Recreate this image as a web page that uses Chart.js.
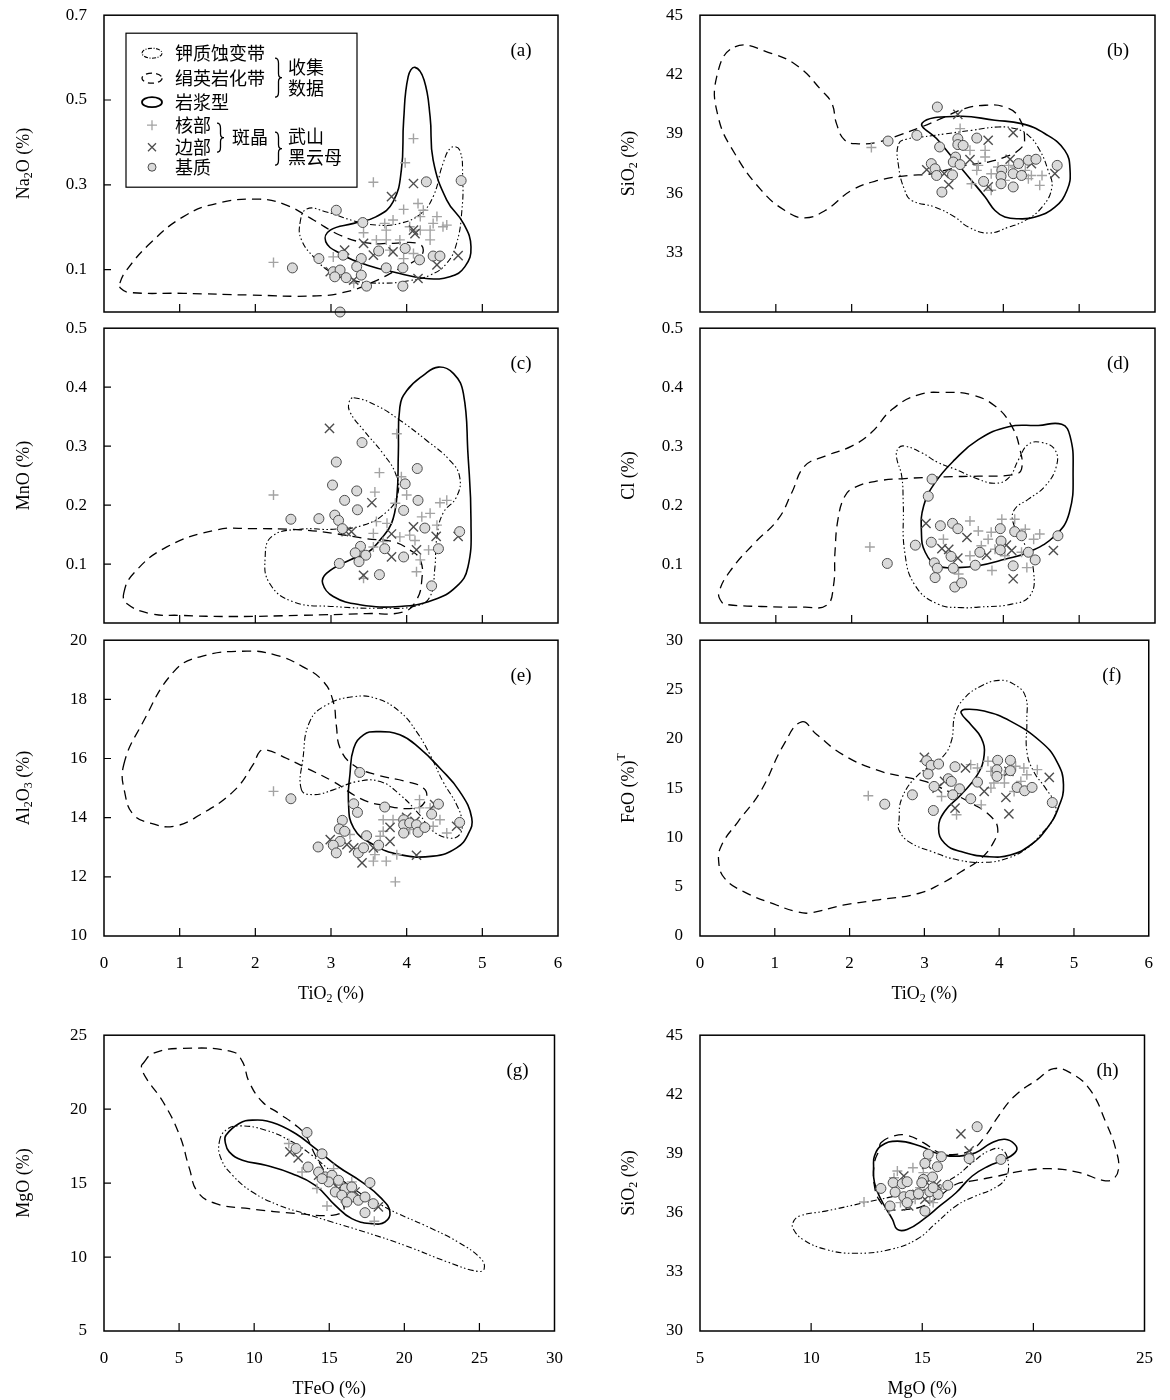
<!DOCTYPE html>
<html>
<head>
<meta charset="utf-8">
<script src="https://cdn.jsdelivr.net/npm/chart.js@4.4.0/dist/chart.umd.min.js"></script>
<style>
html, body { margin: 0; padding: 0; background: #fff; }
#wrap { position: relative; width: 1170px; height: 1400px; overflow: hidden; }
#wrap canvas { position: absolute; }
</style>
</head>
<body>
<div id="wrap"></div>
<script>
// ---- tick values ----
const tiTicks = [0, 1, 2, 3, 4, 5, 6];
const tiMarks = [1, 2, 3, 4, 5];
const naTicks = [0.1, 0.3, 0.5, 0.7];
const naMarks = [0.1, 0.3, 0.5];
const siTicksTop = [33, 36, 39, 42, 45];
const siTicks = [30, 33, 36, 39, 42, 45];
const tenthTicks = [0.1, 0.2, 0.3, 0.4, 0.5];
const tenthMarks = [0.1, 0.2, 0.3, 0.4];
const alTicks = [10, 12, 14, 16, 18, 20];
const alMarks = [12, 14, 16, 18];
const feTicks = [0, 5, 10, 15, 20, 25, 30];
const mgTicks = [5, 10, 15, 20, 25];
const mgMarks = [10, 15, 20];
const tfeTicks = [0, 5, 10, 15, 20, 25, 30];
const tfeMarks = [5, 10, 15, 20, 25];

// ---- (a) TiO2 - Na2O ----
const aCore = [[2.24,0.117],[3.56,0.306],[4.09,0.409],[3.98,0.352],[3.43,0.187],[3.71,0.209],[3.82,0.217],[3.96,0.242],[4.15,0.256],[4.22,0.240],[4.18,0.225],[4.35,0.209],[4.40,0.225],[4.48,0.201],[4.53,0.205],[4.31,0.170],[4.18,0.193],[3.73,0.170],[3.60,0.170],[3.91,0.170],[3.96,0.126],[4.09,0.138],[3.03,0.130],[3.30,0.068],[3.73,0.193],[3.78,0.146],[4.31,0.193],[4.04,0.201]];
const aRim = [[3.80,0.272],[4.09,0.303],[4.11,0.185],[4.09,0.193],[3.43,0.162],[3.18,0.146],[3.56,0.134],[3.82,0.142],[2.99,0.095],[3.30,0.075],[4.15,0.079],[4.40,0.111],[4.68,0.133]];
const aMatrix = [[3.07,0.240],[3.42,0.211],[4.26,0.307],[4.72,0.310],[2.49,0.104],[2.84,0.126],[3.16,0.134],[3.63,0.144],[3.98,0.150],[4.17,0.123],[4.35,0.132],[4.44,0.132],[3.40,0.126],[3.73,0.104],[3.95,0.104],[3.03,0.095],[3.12,0.099],[3.34,0.107],[3.40,0.087],[3.20,0.081],[3.05,0.083],[3.47,0.061],[3.95,0.061],[3.12,0.0]];
const aPotassic = [[2.59,0.209],[2.68,0.243],[2.94,0.236],[3.30,0.215],[3.60,0.205],[3.91,0.209],[4.18,0.231],[4.35,0.272],[4.48,0.350],[4.59,0.388],[4.70,0.382],[4.74,0.319],[4.73,0.240],[4.66,0.162],[4.53,0.115],[4.31,0.087],[4.04,0.074],[3.69,0.068],[3.30,0.074],[2.99,0.095],[2.77,0.130],[2.61,0.170]];
const aPhyllic = [[0.21,0.068],[0.30,0.099],[0.61,0.162],[1.05,0.225],[1.49,0.256],[2.06,0.266],[2.41,0.252],[2.77,0.217],[3.12,0.181],[3.47,0.163],[3.82,0.162],[4.15,0.162],[4.22,0.146],[4.15,0.126],[3.91,0.103],[3.56,0.071],[3.21,0.048],[2.81,0.038],[1.93,0.040],[1.05,0.044],[0.34,0.046],[0.22,0.056]];
const aMagmatic = [[4.11,0.577],[4.23,0.547],[4.31,0.460],[4.35,0.358],[4.53,0.264],[4.75,0.209],[4.85,0.154],[4.77,0.107],[4.57,0.083],[4.26,0.079],[3.91,0.091],[3.47,0.111],[3.12,0.138],[2.93,0.166],[2.99,0.193],[3.30,0.209],[3.60,0.225],[3.82,0.260],[3.93,0.335],[3.96,0.452],[4.02,0.555]];

// ---- (b) TiO2 - SiO2 ----
const bCore = [[2.26,38.31],[3.43,39.27],[3.56,38.17],[3.76,38.17],[3.76,37.83],[3.67,37.41],[3.65,37.16],[3.58,36.48],[3.84,36.15],[3.84,36.99],[3.93,37.33],[4.07,37.41],[4.15,37.33],[4.29,37.16],[4.37,36.90],[4.51,36.90],[4.48,36.40],[4.33,36.74],[4.02,36.65],[4.24,37.50]];
const bRim = [[3.40,39.99],[4.13,39.06],[3.80,38.68],[3.56,37.70],[2.99,37.19],[3.22,36.99],[3.28,36.43],[3.80,36.32],[4.09,37.72],[4.37,37.50],[4.68,36.99]];
const bMatrix = [[3.13,40.36],[2.48,38.64],[2.86,38.93],[3.16,38.34],[3.40,38.76],[3.40,38.46],[3.47,38.42],[3.65,38.79],[3.37,37.83],[3.34,37.58],[3.43,37.45],[3.05,37.50],[3.10,37.24],[3.12,36.90],[3.33,36.93],[3.19,36.06],[3.74,36.60],[3.98,37.16],[3.97,36.86],[3.97,36.48],[4.13,36.99],[4.13,36.32],[4.24,36.90],[4.33,37.67],[4.43,37.72],[4.71,37.41],[4.20,37.50]];
const bPotassic = [[2.62,38.50],[2.75,38.76],[2.92,38.84],[3.23,39.00],[3.58,39.18],[3.93,39.35],[4.15,39.27],[4.33,38.93],[4.48,38.17],[4.59,37.16],[4.64,36.30],[4.51,35.30],[4.29,34.63],[4.07,34.29],[3.80,33.99],[3.54,34.29],[3.36,34.80],[3.10,35.30],[2.79,35.64],[2.70,36.15],[2.62,37.33]];
const bPhyllic = [[0.46,43.40],[0.95,43.06],[1.30,42.39],[1.60,41.21],[1.74,40.53],[1.80,39.52],[1.91,38.68],[2.09,38.50],[2.35,38.59],[2.62,38.93],[2.92,39.35],[3.23,39.86],[3.49,40.28],[3.76,40.45],[4.02,40.36],[4.20,39.86],[4.28,38.68],[4.20,38.17],[4.02,37.83],[3.80,37.58],[3.49,37.41],[3.23,37.16],[3.01,36.96],[2.75,36.90],[2.35,36.65],[2.00,36.15],[1.65,35.13],[1.38,34.76],[1.12,35.13],[0.81,36.15],[0.46,38.00],[0.24,39.86],[0.22,41.88]];
const bMagmatic = [[2.93,39.55],[3.41,39.89],[3.89,39.69],[4.24,39.52],[4.55,39.01],[4.81,38.17],[4.88,37.16],[4.84,36.15],[4.68,35.30],[4.42,34.80],[4.20,34.71],[4.02,34.80],[3.89,35.13],[3.76,35.81],[3.58,36.65],[3.36,37.66],[3.14,38.68]];

// ---- (c) TiO2 - MnO ----
const cCore = [[2.24,0.217],[3.87,0.321],[3.64,0.255],[3.93,0.248],[3.58,0.222],[3.85,0.203],[4.00,0.217],[4.20,0.180],[4.31,0.186],[4.44,0.204],[4.53,0.208],[3.60,0.172],[3.74,0.169],[3.56,0.152],[3.91,0.146],[4.04,0.149],[4.11,0.140],[4.29,0.124],[4.40,0.166],[3.56,0.129],[3.69,0.138],[4.13,0.087],[3.43,0.076],[4.18,0.107]];
const cRim = [[2.98,0.330],[3.54,0.204],[3.20,0.155],[3.27,0.155],[3.80,0.151],[4.09,0.163],[4.39,0.147],[4.68,0.147],[4.13,0.124],[3.80,0.112],[3.43,0.081]];
const cMatrix = [[3.41,0.306],[3.07,0.273],[3.02,0.234],[3.34,0.224],[3.18,0.208],[3.35,0.192],[2.47,0.176],[2.84,0.177],[3.05,0.183],[3.10,0.174],[3.15,0.160],[3.98,0.236],[4.14,0.262],[4.15,0.208],[3.96,0.191],[4.24,0.161],[4.70,0.155],[4.42,0.126],[3.39,0.130],[3.32,0.119],[3.46,0.115],[3.37,0.104],[3.71,0.126],[3.96,0.112],[3.11,0.101],[3.64,0.082],[4.33,0.063]];
const cPotassic = [[3.30,0.382],[3.60,0.369],[3.91,0.344],[4.26,0.310],[4.57,0.276],[4.70,0.248],[4.66,0.214],[4.48,0.186],[4.40,0.146],[4.37,0.090],[4.31,0.045],[4.13,0.029],[3.69,0.025],[3.03,0.028],[2.50,0.036],[2.19,0.067],[2.13,0.112],[2.22,0.147],[2.59,0.159],[3.03,0.159],[3.43,0.166],[3.74,0.189],[3.88,0.217],[3.86,0.251],[3.69,0.287],[3.43,0.327],[3.25,0.358],[3.24,0.375]];
const cPhyllic = [[0.26,0.050],[0.39,0.084],[0.83,0.129],[1.49,0.158],[1.93,0.160],[2.59,0.158],[3.03,0.152],[3.47,0.143],[3.82,0.138],[4.04,0.124],[4.18,0.107],[4.20,0.073],[4.13,0.039],[3.96,0.019],[3.47,0.016],[2.59,0.013],[1.71,0.011],[1.00,0.013],[0.61,0.016],[0.30,0.033]];
const cMagmatic = [[4.42,0.434],[4.62,0.423],[4.75,0.389],[4.81,0.287],[4.85,0.174],[4.81,0.095],[4.66,0.062],[4.35,0.039],[3.91,0.028],[3.38,0.031],[3.03,0.045],[2.89,0.067],[2.94,0.084],[3.25,0.107],[3.47,0.118],[3.65,0.141],[3.80,0.169],[3.87,0.214],[3.89,0.287],[3.91,0.366],[4.00,0.394],[4.22,0.420]];

// ---- (d) TiO2 - Cl ----
const dCore = [[2.24,0.129],[3.21,0.142],[3.56,0.173],[3.67,0.156],[3.80,0.142],[3.85,0.089],[3.98,0.176],[4.15,0.176],[4.29,0.159],[4.40,0.142],[4.48,0.151],[3.56,0.114],[3.71,0.131],[3.89,0.125],[4.02,0.114],[4.31,0.094],[3.41,0.083],[3.84,0.154],[4.24,0.120]];
const dRim = [[2.98,0.169],[3.19,0.126],[3.28,0.125],[3.40,0.110],[3.52,0.145],[3.78,0.115],[4.04,0.132],[4.11,0.123],[4.13,0.075],[4.66,0.123]];
const dMatrix = [[3.06,0.244],[3.01,0.215],[2.84,0.132],[2.47,0.101],[3.05,0.137],[3.17,0.165],[3.33,0.169],[3.40,0.160],[3.09,0.102],[3.13,0.093],[3.10,0.077],[3.31,0.113],[3.34,0.093],[3.36,0.061],[3.45,0.068],[3.69,0.120],[3.63,0.098],[3.96,0.160],[3.97,0.139],[3.96,0.124],[4.15,0.155],[4.24,0.148],[4.13,0.097],[4.33,0.120],[4.42,0.107],[4.72,0.148]];
const dPotassic = [[2.62,0.297],[2.70,0.300],[2.92,0.289],[3.14,0.272],[3.36,0.261],[3.67,0.244],[3.89,0.237],[4.07,0.246],[4.20,0.277],[4.33,0.303],[4.51,0.306],[4.68,0.294],[4.70,0.266],[4.55,0.232],[4.33,0.210],[4.15,0.193],[4.13,0.170],[4.29,0.131],[4.40,0.086],[4.35,0.046],[4.11,0.032],[3.67,0.027],[3.45,0.026],[3.14,0.032],[2.84,0.063],[2.70,0.120],[2.68,0.204],[2.66,0.249],[2.59,0.283]];
const dPhyllic = [[0.29,0.035],[0.25,0.052],[0.42,0.092],[0.73,0.137],[1.03,0.176],[1.21,0.221],[1.38,0.266],[1.65,0.283],[2.00,0.300],[2.26,0.323],[2.53,0.362],[2.88,0.387],[3.23,0.391],[3.58,0.387],[3.89,0.368],[4.11,0.334],[4.22,0.294],[4.24,0.261],[4.15,0.252],[3.67,0.249],[3.23,0.248],[2.70,0.245],[2.35,0.241],[2.04,0.230],[1.91,0.215],[1.82,0.176],[1.78,0.120],[1.76,0.063],[1.67,0.030],[1.38,0.027],[0.81,0.028],[0.37,0.031]];
const dMagmatic = [[2.92,0.154],[2.95,0.199],[3.10,0.238],[3.36,0.277],[3.67,0.311],[4.07,0.333],[4.46,0.335],[4.77,0.337],[4.88,0.317],[4.92,0.261],[4.87,0.187],[4.68,0.148],[4.33,0.120],[4.02,0.108],[3.67,0.097],[3.41,0.094],[3.14,0.097],[2.97,0.120]];

// ---- (e) TiO2 - Al2O3 ----
const eCore = [[2.24,14.89],[3.85,11.83],[3.69,13.93],[3.82,13.93],[3.69,13.54],[3.58,12.75],[3.73,12.53],[3.87,12.75],[3.56,12.53],[4.17,14.61],[4.17,14.33],[4.31,14.33],[4.44,13.93],[4.35,13.71],[4.53,13.48],[3.25,13.43],[3.65,13.37],[4.04,13.60]];
const eRim = [[2.99,13.26],[3.21,13.09],[3.30,12.98],[3.41,12.47],[3.56,12.98],[3.78,13.67],[3.78,13.20],[4.00,14.01],[4.11,13.88],[4.13,12.73],[4.37,14.44],[4.66,13.71]];
const eMatrix = [[3.38,15.53],[2.47,14.64],[3.30,14.47],[3.35,14.18],[3.71,14.36],[3.15,13.91],[3.11,13.62],[3.18,13.54],[3.12,13.20],[3.03,13.07],[3.07,12.81],[2.83,13.01],[3.36,12.81],[3.47,13.39],[3.63,13.07],[3.96,13.93],[3.96,13.76],[3.96,13.48],[4.04,13.82],[4.13,13.76],[4.15,13.51],[4.24,13.67],[4.33,14.12],[4.42,14.46],[4.70,13.84],[3.43,12.98]];
const ePotassic = [[2.61,14.94],[2.63,16.01],[2.72,17.25],[2.94,17.81],[3.30,18.09],[3.60,18.03],[3.91,17.58],[4.13,16.91],[4.31,16.12],[4.48,15.22],[4.66,14.44],[4.73,13.88],[4.70,13.43],[4.57,13.31],[4.35,13.54],[4.17,14.10],[3.91,14.78],[3.65,15.22],[3.34,15.22],[3.03,14.94],[2.77,14.78]];
const ePhyllic = [[0.26,15.78],[0.52,17.25],[0.92,18.93],[1.27,19.44],[1.89,19.63],[2.28,19.49],[2.63,19.10],[2.90,18.60],[3.03,17.92],[3.07,17.13],[3.12,16.35],[3.29,15.79],[3.60,15.45],[4.00,15.22],[4.22,15.00],[4.26,14.66],[4.13,14.33],[3.65,14.44],[3.38,14.66],[3.03,15.22],[2.68,15.67],[2.41,16.01],[2.15,16.29],[2.06,16.24],[1.97,15.79],[1.71,14.89],[1.27,14.10],[0.92,13.71],[0.61,13.82],[0.39,14.10],[0.28,14.78]];
const eMagmatic = [[3.43,16.80],[3.60,16.91],[3.91,16.80],[4.17,16.35],[4.44,15.67],[4.70,14.89],[4.86,13.99],[4.81,13.43],[4.66,12.98],[4.35,12.70],[3.91,12.75],[3.56,13.09],[3.30,13.65],[3.23,14.55],[3.25,15.45],[3.30,16.35]];

// ---- (f) TiO2 - FeO ----
const fCore = [[2.25,14.22],[3.23,14.15],[3.43,12.29],[3.76,13.30],[3.62,17.38],[3.71,17.04],[3.85,17.72],[3.89,16.70],[3.93,15.51],[4.07,15.51],[4.07,16.36],[4.22,17.21],[4.33,17.04],[4.37,16.36],[4.51,16.87],[4.29,15.68],[4.20,14.66],[3.89,15.00]];
const fRim = [[3.00,18.12],[3.17,15.00],[3.27,15.68],[3.41,12.97],[3.55,17.04],[3.80,14.66],[4.09,14.05],[4.13,12.39],[4.13,16.70],[4.67,16.09]];
const fMatrix = [[2.47,13.37],[2.84,14.32],[3.03,17.78],[3.09,17.31],[3.19,17.44],[3.05,16.43],[3.13,15.17],[3.12,12.73],[3.32,15.95],[3.36,15.68],[3.41,17.17],[3.47,14.93],[3.38,14.32],[3.62,13.92],[3.71,15.61],[3.98,17.82],[3.97,16.87],[3.97,16.19],[4.15,17.82],[4.15,16.77],[4.24,15.07],[4.34,14.73],[4.44,15.07],[4.71,13.54]];
const fPotassic = [[2.66,11.61],[2.70,13.98],[2.92,16.36],[3.23,18.06],[3.36,19.75],[3.41,22.47],[3.54,24.16],[3.76,25.35],[4.00,25.93],[4.20,25.52],[4.35,24.33],[4.37,21.79],[4.37,18.73],[4.46,16.70],[4.62,15.00],[4.75,13.30],[4.73,11.95],[4.55,10.25],[4.37,8.89],[4.11,7.88],[3.80,7.47],[3.45,7.71],[3.10,8.56],[2.79,9.57],[2.66,10.76]];
const fPhyllic = [[1.36,21.72],[1.56,20.43],[1.91,18.39],[2.35,16.87],[2.70,16.19],[3.01,15.68],[3.32,14.66],[3.67,13.30],[3.89,12.12],[3.98,10.93],[3.93,9.57],[3.76,7.88],[3.49,6.52],[3.23,5.33],[2.92,4.31],[2.35,3.63],[1.91,3.12],[1.47,2.34],[1.30,2.45],[1.03,3.12],[0.59,4.48],[0.33,5.84],[0.25,7.54],[0.29,9.23],[0.51,11.61],[0.81,14.66],[1.12,19.41]];
const fMagmatic = [[3.49,22.64],[3.54,22.98],[3.80,22.81],[4.15,21.79],[4.55,19.75],[4.77,17.72],[4.86,15.34],[4.79,12.97],[4.64,10.93],[4.42,9.23],[4.15,8.21],[3.85,8.05],[3.49,8.56],[3.27,9.40],[3.19,10.93],[3.27,12.63],[3.49,14.32],[3.71,16.36],[3.80,18.39],[3.76,20.09],[3.62,21.45]];

// ---- (g) TFeO - MgO ----
const gCore = [[12.31,17.68],[13.19,15.75],[14.85,13.45],[18.00,12.42],[14.18,14.63],[15.29,15.98],[16.06,13.72],[16.50,15.08]];
const gRim = [[12.38,17.11],[12.93,16.70],[14.29,15.53],[15.18,15.08],[16.72,14.40],[18.27,13.39],[15.62,14.63]];
const gMatrix = [[13.52,18.42],[12.79,17.34],[14.52,16.98],[13.59,16.09],[14.29,15.75],[14.74,15.42],[15.18,15.53],[14.96,15.08],[15.62,15.19],[15.40,14.40],[16.06,14.63],[16.50,14.74],[16.50,14.06],[16.94,13.84],[17.38,14.06],[17.71,15.03],[17.93,13.61],[17.38,13.00],[15.84,14.18],[14.52,15.30],[16.17,13.72]];
const gPotassic = [[7.68,17.79],[8.12,18.58],[9.00,18.87],[10.77,18.58],[12.53,17.79],[13.85,16.88],[15.18,15.75],[16.94,14.40],[18.49,13.50],[19.59,12.93],[21.36,12.14],[23.56,11.02],[25.10,9.89],[25.32,9.21],[24.88,9.03],[22.90,9.66],[20.03,10.79],[17.38,11.69],[15.18,12.37],[13.41,12.93],[11.65,13.50],[9.88,14.40],[8.56,15.53],[7.79,16.66]];
const gPhyllic = [[2.60,23.09],[3.27,23.77],[5.25,24.11],[8.56,23.88],[9.22,23.21],[9.66,21.85],[10.54,20.50],[11.65,19.71],[12.75,18.92],[13.41,18.24],[14.07,16.88],[14.96,15.30],[15.84,13.72],[15.95,13.16],[15.18,12.82],[12.97,12.93],[9.66,13.27],[7.46,13.61],[6.24,14.40],[5.69,15.98],[5.03,18.24],[3.93,20.50],[2.82,22.08],[2.49,22.87]];
const gMagmatic = [[8.12,18.24],[9.00,19.03],[9.88,19.26],[11.21,19.10],[12.75,18.35],[14.07,17.34],[15.62,16.09],[17.16,15.08],[18.49,13.95],[19.04,13.05],[18.71,12.37],[17.82,12.26],[16.50,12.60],[15.40,13.50],[14.07,14.85],[12.53,15.64],[10.77,16.21],[9.22,16.55],[8.34,17.11],[8.07,17.79]];

// ---- (h) MgO - SiO2 ----
const hCore = [[12.38,36.54],[13.88,38.11],[14.58,38.28],[13.73,37.77],[15.05,38.03],[13.51,36.17],[14.02,36.51],[14.68,36.68],[15.34,36.59],[15.86,37.18],[15.49,36.51],[14.90,37.27]];
const hRim = [[16.74,40.00],[17.11,39.13],[15.20,38.45],[14.17,37.86],[15.20,37.52],[15.64,37.44],[14.39,36.34],[14.76,36.93],[15.49,37.01],[15.12,36.68]];
const hMatrix = [[17.47,40.36],[17.11,38.74],[18.54,38.70],[15.27,38.96],[15.86,38.84],[15.12,38.50],[15.68,38.33],[15.46,37.81],[16.15,37.39],[15.05,37.69],[13.14,37.23],[13.69,37.52],[14.10,37.47],[14.32,37.57],[13.78,37.04],[13.55,36.34],[14.17,36.81],[14.46,36.88],[14.32,36.51],[14.83,36.96],[15.12,36.08],[15.34,37.06],[15.71,36.93],[14.98,37.52],[15.49,37.27]];
const hPotassic = [[9.18,35.49],[9.48,35.83],[10.65,36.08],[12.41,36.51],[14.00,36.90],[15.50,37.30],[16.52,37.86],[17.25,38.54],[17.99,39.13],[18.57,39.21],[18.87,38.54],[18.72,37.69],[18.13,37.18],[17.40,36.85],[16.52,36.34],[15.64,35.49],[14.76,34.65],[13.58,34.14],[11.97,33.94],[10.65,34.14],[9.62,34.65],[9.21,35.15]];
const hPhyllic = [[13.14,39.55],[13.73,39.89],[14.32,39.92],[15.05,39.55],[15.79,39.04],[16.52,38.96],[17.25,39.21],[17.84,39.89],[18.43,40.90],[19.16,41.92],[20.19,42.76],[20.92,43.30],[21.65,43.10],[22.54,42.25],[23.27,40.56],[23.71,39.21],[23.83,38.20],[23.56,37.69],[23.12,37.64],[22.09,38.03],[20.77,38.23],[19.45,38.11],[18.43,37.86],[17.25,37.61],[16.52,37.44],[15.79,36.85],[15.05,36.34],[14.32,36.17],[13.58,36.17],[13.14,36.51],[12.85,37.35],[12.85,38.54],[13.07,39.21]];
const hMagmatic = [[12.85,38.87],[13.14,39.38],[13.88,39.63],[14.90,39.38],[15.79,38.96],[16.67,38.87],[17.40,39.04],[18.13,39.55],[18.72,39.72],[19.16,39.47],[19.23,39.13],[18.72,38.71],[17.99,38.37],[17.25,37.86],[16.52,37.01],[15.79,36.34],[15.05,35.66],[14.32,35.15],[13.88,35.15],[13.66,35.66],[13.14,36.68],[12.85,37.52],[12.81,38.37]];

// ---- styles ----
const potDash = [6, 2.5, 1.5, 2.5, 1.5, 2.5];
const phyDash = [9, 6];
const coreColor = '#a3a3a3';
const rimColor = '#4d4d4d';
const matrixFill = '#dadada';
const serif = '"Liberation Serif", "Times New Roman", serif';
const cjk = '"Noto Sans CJK SC", sans-serif';

const sub = s => [s, 'sub'];
const panels = [
  { letter: '(a)', col: 0, top: 15, bottom: 312, x: [0, 6], y: [0, 0.7], xLabels: null, xMarks: tiMarks, yLabels: naTicks, yMarks: naMarks, dec: 1,
    yTitle: [['Na'], sub('2'), ['O (%)']], sets: [aMatrix, aRim, aCore, aMagmatic, aPhyllic, aPotassic], legend: true },
  { letter: '(b)', col: 1, top: 15, bottom: 312, x: [0, 6], y: [30, 45], xLabels: null, xMarks: tiMarks, yLabels: siTicksTop, yMarks: [], dec: 0,
    yTitle: [['SiO'], sub('2'), [' (%)']], sets: [bMatrix, bRim, bCore, bMagmatic, bPhyllic, bPotassic] },
  { letter: '(c)', col: 0, top: 328, bottom: 623, x: [0, 6], y: [0, 0.5], xLabels: null, xMarks: tiMarks, yLabels: tenthTicks, yMarks: tenthMarks, dec: 1,
    yTitle: [['MnO (%)']], sets: [cMatrix, cRim, cCore, cMagmatic, cPhyllic, cPotassic] },
  { letter: '(d)', col: 1, top: 328, bottom: 623, x: [0, 6], y: [0, 0.5], xLabels: null, xMarks: tiMarks, yLabels: tenthTicks, yMarks: [], dec: 1,
    yTitle: [['Cl (%)']], sets: [dMatrix, dRim, dCore, dMagmatic, dPhyllic, dPotassic] },
  { letter: '(e)', col: 0, top: 640, bottom: 936, x: [0, 6], y: [10, 20], xLabels: tiTicks, xMarks: tiMarks, yLabels: alTicks, yMarks: alMarks, dec: 0,
    yTitle: [['Al'], sub('2'), ['O'], sub('3'), [' (%)']], xTitle: [['TiO'], sub('2'), [' (%)']], sets: [eMatrix, eRim, eCore, eMagmatic, ePhyllic, ePotassic] },
  { letter: '(f)', col: 1, top: 640, bottom: 936, x: [0, 6], y: [0, 30], xLabels: tiTicks, xMarks: tiMarks, yLabels: feTicks, yMarks: [], dec: 0,
    yTitle: [['FeO (%)'], ['T', 'sup']], xTitle: [['TiO'], sub('2'), [' (%)']], sets: [fMatrix, fRim, fCore, fMagmatic, fPhyllic, fPotassic] },
  { letter: '(g)', col: 0, top: 1035, bottom: 1331, x: [0, 30], y: [5, 25], xLabels: tfeTicks, xMarks: tfeMarks, yLabels: mgTicks, yMarks: mgMarks, dec: 0, last: true,
    yTitle: [['MgO (%)']], xTitle: [['TFeO (%)']], sets: [gMatrix, gRim, gCore, gMagmatic, gPhyllic, gPotassic] },
  { letter: '(h)', col: 1, top: 1035, bottom: 1331, x: [5, 25], y: [30, 45], xLabels: mgTicks, xMarks: mgMarks, yLabels: siTicks, yMarks: [], dec: 0, last: true,
    yTitle: [['SiO'], sub('2'), [' (%)']], xTitle: [['MgO (%)']], sets: [hMatrix, hRim, hCore, hMagmatic, hPhyllic, hPotassic] }
];

const panelOf = new Map();

function drawRich(ctx, segs, cx, cy, rot) {
  ctx.save();
  ctx.translate(cx, cy);
  ctx.rotate(rot);
  const fontOf = s => (s[1] ? '12px ' : '18px ') + serif;
  let w = 0;
  segs.forEach(s => { ctx.font = fontOf(s); w += ctx.measureText(s[0]).width; });
  let x = -w / 2;
  ctx.textAlign = 'left';
  ctx.textBaseline = 'middle';
  ctx.fillStyle = '#000';
  segs.forEach(s => {
    ctx.font = fontOf(s);
    const dy = s[1] === 'sub' ? 5 : s[1] === 'sup' ? -7 : 0;
    ctx.fillText(s[0], x, dy);
    x += ctx.measureText(s[0]).width;
  });
  ctx.restore();
}

function brace(ctx, x, y1, y2) {
  const m = (y1 + y2) / 2, w = 7, h = w / 2;
  ctx.beginPath();
  ctx.moveTo(x, y1);
  ctx.quadraticCurveTo(x + h, y1, x + h, y1 + 5);
  ctx.lineTo(x + h, m - 4);
  ctx.quadraticCurveTo(x + h, m, x + w, m);
  ctx.quadraticCurveTo(x + h, m, x + h, m + 4);
  ctx.lineTo(x + h, y2 - 5);
  ctx.quadraticCurveTo(x + h, y2, x, y2);
  ctx.stroke();
}

function drawLegend(ctx, a) {
  const L = a.left, T = a.top;
  ctx.save();
  ctx.strokeStyle = '#000';
  ctx.lineWidth = 1.2;
  ctx.strokeRect(L + 22, T + 18, 231, 154);
  const icon = (dash, w, cy) => {
    ctx.setLineDash(dash);
    ctx.lineWidth = w;
    ctx.beginPath();
    ctx.ellipse(L + 48, T + cy, 10, 5, 0, 0, Math.PI * 2);
    ctx.stroke();
  };
  icon([4, 1.5, 1, 1.5], 1.1, 38);
  icon([6, 4], 1.3, 63);
  icon([], 1.8, 87);
  ctx.setLineDash([]);
  // marker symbols
  ctx.lineWidth = 1.3;
  ctx.strokeStyle = coreColor;
  ctx.beginPath();
  ctx.moveTo(L + 43, T + 110); ctx.lineTo(L + 53, T + 110);
  ctx.moveTo(L + 48, T + 105); ctx.lineTo(L + 48, T + 115);
  ctx.stroke();
  ctx.strokeStyle = rimColor;
  ctx.beginPath();
  ctx.moveTo(L + 44, T + 128); ctx.lineTo(L + 52, T + 136);
  ctx.moveTo(L + 52, T + 128); ctx.lineTo(L + 44, T + 136);
  ctx.stroke();
  ctx.lineWidth = 1;
  ctx.fillStyle = matrixFill;
  ctx.beginPath();
  ctx.arc(L + 48, T + 152, 4, 0, Math.PI * 2);
  ctx.fill();
  ctx.stroke();
  // texts
  ctx.fillStyle = '#000';
  ctx.font = '18px ' + cjk;
  ctx.textAlign = 'left';
  ctx.textBaseline = 'middle';
  [['钾质蚀变带', 38], ['绢英岩化带', 63], ['岩浆型', 87], ['核部', 110], ['边部', 132], ['基质', 152]]
    .forEach(([t, y]) => ctx.fillText(t, L + 71, T + y));
  ctx.strokeStyle = '#000';
  ctx.lineWidth = 1.3;
  brace(ctx, L + 171, T + 43, T + 82);
  ctx.fillText('收集', L + 184, T + 52);
  ctx.fillText('数据', L + 184, T + 73);
  brace(ctx, L + 113, T + 108, T + 137);
  ctx.fillText('斑晶', L + 128, T + 122);
  brace(ctx, L + 171, T + 117, T + 150);
  ctx.fillText('武山', L + 184, T + 121);
  ctx.fillText('黑云母', L + 184, T + 142);
  ctx.restore();
}

// closes the contour lines into smooth loops
const loopPlugin = {
  id: 'loopPlugin',
  afterDatasetUpdate(chart, args) {
    const ds = chart.data.datasets[args.index];
    const line = args.meta.dataset;
    if (ds.closed && line) {
      line._loop = true;
      line._fullLoop = true;
      line._pointsUpdated = false;
      delete line._segments;
      delete line._path;
    }
  },
  beforeDatasetsDraw(chart) {
    chart.data.datasets.forEach((ds, i) => {
      const meta = chart.getDatasetMeta(i);
      if (ds.closed && meta.dataset) meta.dataset.updateControlPoints(chart.chartArea, 'x');
    });
  }
};

const framePlugin = {
  id: 'framePlugin',
  afterDraw(chart) {
    const p = panelOf.get(chart.canvas);
    if (!p) return;
    const { ctx, chartArea: a, scales: { x, y } } = chart;
    ctx.save();
    ctx.strokeStyle = '#000';
    ctx.lineWidth = 1.5;
    ctx.strokeRect(a.left, a.top, a.right - a.left, a.bottom - a.top);
    ctx.lineWidth = 1.2;
    ctx.beginPath();
    p.xMarks.forEach(v => {
      const px = x.getPixelForValue(v);
      ctx.moveTo(px, a.bottom);
      ctx.lineTo(px, a.bottom - 8);
    });
    p.yMarks.forEach(v => {
      const py = y.getPixelForValue(v);
      ctx.moveTo(a.left, py);
      ctx.lineTo(a.left + 7, py);
    });
    ctx.stroke();
    ctx.fillStyle = '#000';
    ctx.font = '19px ' + serif;
    ctx.textAlign = 'center';
    ctx.textBaseline = 'middle';
    ctx.fillText(p.letter, a.right - 37, a.top + 36);
    drawRich(ctx, p.yTitle, a.left - (p.col ? 71 : 80), (a.top + a.bottom) / 2, -Math.PI / 2);
    if (p.xTitle) drawRich(ctx, p.xTitle, (a.left + a.right) / 2, a.bottom + 58, 0);
    if (p.legend) drawLegend(ctx, a);
    ctx.restore();
  }
};

Chart.register(loopPlugin, framePlugin);

const wrap = document.getElementById('wrap');

function pointSet(data, style, radius, border, fill, bw) {
  return {
    data, showLine: false, clip: false,
    pointStyle: style, pointRadius: radius,
    pointBorderColor: border, pointBackgroundColor: fill, pointBorderWidth: bw,
    borderColor: border, backgroundColor: fill
  };
}

function contourSet(data, dash, width) {
  return {
    data, showLine: true, closed: true,
    pointRadius: 0, borderColor: '#000', borderWidth: width,
    borderDash: dash, tension: 0.45, fill: false
  };
}

function makeChart(p) {
  const colLeft = p.col ? 590 : 0;
  const frameL = p.col ? 700 : 104;
  const frameR = p.col ? 1155 : 558;
  const xAxisH = p.last ? 68 : 80;
  const frameH = p.bottom - p.top;
  const h = frameH + 10 + xAxisH;
  const cv = document.createElement('canvas');
  cv.width = 580;
  cv.height = h;
  cv.style.left = colLeft + 'px';
  cv.style.top = (p.top - 10) + 'px';
  cv.style.width = '580px';
  cv.style.height = h + 'px';
  wrap.appendChild(cv);
  panelOf.set(cv, p);

  const [matrix, rim, core, magmatic, phyllic, potassic] = p.sets;
  const tickFont = { family: serif, size: 17 };
  const chart = new Chart(cv.getContext('2d'), {
    type: 'scatter',
    data: {
      datasets: [
        pointSet(matrix, 'circle', 5, rimColor, matrixFill, 1),
        pointSet(rim, 'crossRot', 6.5, rimColor, rimColor, 1.4),
        pointSet(core, 'cross', 5, coreColor, coreColor, 1.4),
        contourSet(magmatic, [], 1.6),
        contourSet(phyllic, phyDash, 1.3),
        contourSet(potassic, potDash, 1.1)
      ]
    },
    options: {
      responsive: false,
      maintainAspectRatio: false,
      devicePixelRatio: 1,
      animation: false,
      events: [],
      layout: { padding: { left: 0, top: 10, right: colLeft + 580 - frameR, bottom: 0 } },
      plugins: { legend: { display: false }, tooltip: { enabled: false } },
      scales: {
        x: {
          type: 'linear', min: p.x[0], max: p.x[1],
          grid: { display: false, drawTicks: false }, border: { display: false },
          afterBuildTicks: s => { s.ticks = (p.xLabels || []).map(v => ({ value: v })); },
          afterFit: s => { s.height = xAxisH; },
          ticks: { display: !!p.xLabels, padding: 17, font: tickFont, color: '#000', autoSkip: false, maxRotation: 0, callback: v => String(v) }
        },
        y: {
          type: 'linear', min: p.y[0], max: p.y[1],
          grid: { display: false, drawTicks: false }, border: { display: false },
          afterBuildTicks: s => { s.ticks = p.yLabels.map(v => ({ value: v })); },
          afterFit: s => { s.width = frameL - colLeft; },
          ticks: { padding: 17, font: tickFont, color: '#000', autoSkip: false, callback: v => v.toFixed(p.dec) }
        }
      }
    }
  });

  // the layout may reserve extra room above the plot; grow the canvas so the frame keeps its size
  const dt = Math.round(chart.chartArea.top);
  if (dt !== 10) {
    const newH = dt + frameH + xAxisH;
    cv.style.top = (p.top - dt) + 'px';
    chart.resize(580, newH);
  }
}

panels.forEach(makeChart);
</script>
</body>
</html>
